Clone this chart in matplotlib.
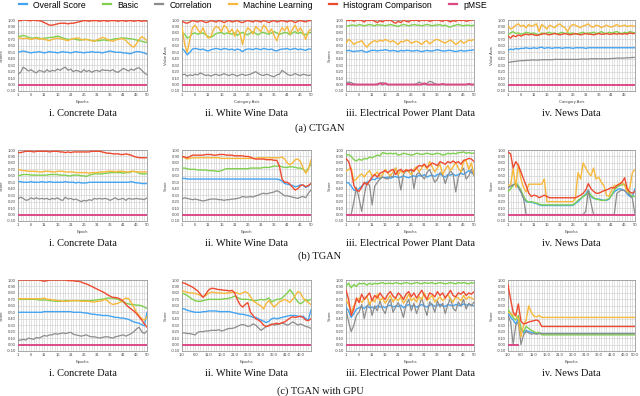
import numpy as np
import matplotlib
matplotlib.use("Agg")
import matplotlib.pyplot as plt
from matplotlib.lines import Line2D

# ---------------- data ----------------
epochs = list(range(1, 51))
series_names = ["Overall Score", "Basic", "Correlation", "Machine Learning", "Histogram Comparison", "pMSE"]
row_titles = ["(a) CTGAN", "(b) TGAN", "(c) TGAN with GPU"]
col_titles = ["i. Concrete Data", "ii. White Wine Data", "iii. Electrical Power Plant Data", "iv. News Data"]
x_labels = [["Epochs", "Category Axis", "Epochs", "Category Axis"],
            ["Epoch", "Epoch", "Epochs", "Epochs"],
            ["Epochs", "Epochs", "Epochs", "Epochs"]]
y_labels = [["Scores", "Value Axis", "Scores", "Value Axis"],
            ["Score", "Score", "Score", "Score"],
            ["Score", "Score", "Score", "Score"]]
y_ticks = [-0.1, 0.0, 0.1, 0.2, 0.3, 0.4, 0.5, 0.6, 0.7, 0.8, 0.9, 1.0]

# (a) CTGAN - Concrete
a1_overall = [0.50,0.51,0.52,0.51,0.50,0.49,0.50,0.50,0.51,0.50,0.49,0.50,0.51,0.50,0.50,0.49,0.50,0.51,0.50,0.50,0.49,0.50,0.51,0.50,0.50,0.49,0.50,0.50,0.51,0.50,0.50,0.50,0.49,0.50,0.51,0.52,0.51,0.50,0.50,0.50,0.49,0.49,0.48,0.48,0.50,0.51,0.51,0.50,0.49,0.47]
a1_basic = [0.74,0.75,0.76,0.75,0.73,0.72,0.72,0.73,0.72,0.71,0.72,0.72,0.73,0.73,0.74,0.75,0.74,0.72,0.71,0.70,0.70,0.71,0.70,0.69,0.69,0.70,0.70,0.69,0.68,0.68,0.68,0.68,0.69,0.69,0.68,0.69,0.70,0.71,0.71,0.72,0.72,0.72,0.71,0.71,0.70,0.69,0.68,0.67,0.66,0.65]
a1_corr = [0.16,0.19,0.27,0.24,0.21,0.23,0.20,0.18,0.22,0.21,0.19,0.23,0.20,0.22,0.21,0.24,0.22,0.25,0.27,0.22,0.24,0.20,0.22,0.21,0.19,0.23,0.20,0.22,0.19,0.21,0.22,0.20,0.23,0.22,0.22,0.21,0.23,0.20,0.19,0.22,0.25,0.23,0.21,0.24,0.22,0.25,0.26,0.22,0.18,0.15]
a1_ml = [0.72,0.72,0.71,0.72,0.71,0.70,0.71,0.72,0.70,0.71,0.70,0.69,0.68,0.70,0.71,0.72,0.71,0.70,0.69,0.68,0.70,0.71,0.72,0.72,0.70,0.69,0.70,0.69,0.68,0.67,0.69,0.71,0.73,0.72,0.70,0.68,0.67,0.69,0.70,0.71,0.71,0.68,0.64,0.60,0.58,0.63,0.70,0.74,0.72,0.68]
a1_hist = [0.99,0.99,1.00,1.00,0.99,0.99,1.00,0.99,0.99,0.98,0.96,0.94,0.92,0.92,0.93,0.94,0.95,0.95,0.95,0.94,0.95,0.95,0.96,0.97,0.98,0.99,0.99,0.98,0.99,0.99,0.99,0.98,0.99,0.99,0.98,0.99,0.99,0.99,0.98,0.99,0.99,0.98,0.99,0.99,0.98,0.99,0.99,0.98,0.99,0.98]
a1_pmse = [0,0,0,0,0,0,0,0,0,0,0,0,0,0,0,0,0,0,0,0,0,0,0,0,0,0,0,0,0,0,0,0,0,0,0,0,0,0,0,0,0,0,0,0,0,0,0,0,0,0]

# (a) CTGAN - White Wine
a2_overall = [0.56,0.52,0.46,0.50,0.55,0.56,0.55,0.54,0.55,0.53,0.52,0.54,0.55,0.56,0.55,0.54,0.56,0.55,0.54,0.55,0.53,0.55,0.54,0.51,0.54,0.55,0.55,0.54,0.56,0.55,0.54,0.56,0.55,0.54,0.55,0.53,0.52,0.54,0.55,0.55,0.56,0.54,0.55,0.56,0.54,0.55,0.54,0.53,0.55,0.55]
a2_basic = [0.80,0.78,0.72,0.74,0.79,0.80,0.78,0.79,0.80,0.77,0.74,0.73,0.76,0.79,0.80,0.81,0.78,0.80,0.79,0.78,0.80,0.76,0.79,0.81,0.78,0.77,0.80,0.82,0.79,0.77,0.80,0.81,0.79,0.78,0.80,0.82,0.80,0.78,0.79,0.81,0.80,0.77,0.80,0.82,0.79,0.81,0.78,0.77,0.80,0.81]
a2_corr = [0.15,0.16,0.13,0.15,0.14,0.16,0.15,0.18,0.16,0.14,0.15,0.13,0.15,0.16,0.14,0.15,0.17,0.15,0.14,0.16,0.15,0.13,0.15,0.16,0.14,0.15,0.16,0.18,0.20,0.17,0.15,0.14,0.16,0.15,0.13,0.12,0.15,0.16,0.22,0.19,0.16,0.14,0.15,0.17,0.15,0.14,0.16,0.15,0.14,0.15]
a2_ml = [0.90,0.62,0.50,0.70,0.88,0.92,0.85,0.80,0.88,0.78,0.72,0.74,0.86,0.90,0.88,0.82,0.92,0.88,0.80,0.86,0.75,0.85,0.80,0.62,0.80,0.88,0.84,0.78,0.90,0.86,0.82,0.92,0.88,0.80,0.86,0.76,0.68,0.80,0.88,0.84,0.90,0.78,0.86,0.92,0.82,0.88,0.80,0.70,0.82,0.86]
a2_hist = [0.98,0.96,0.95,0.97,0.99,0.98,0.97,0.99,0.98,0.96,0.97,0.99,0.98,0.97,0.99,0.98,0.96,0.98,0.99,0.97,0.98,0.99,0.97,0.96,0.98,0.99,0.98,0.97,0.99,0.98,0.97,0.99,0.98,0.96,0.98,0.99,0.97,0.98,0.99,0.98,0.97,0.99,0.98,0.96,0.98,0.99,0.98,0.97,0.99,0.99]
a2_pmse = [0,0,0,0,0,0,0,0,0,0,0,0,0,0,0,0,0,0,0,0,0,0,0,0,0,0,0,0,0,0,0,0,0,0,0,0,0,0,0,0,0,0,0,0,0,0,0,0,0,0]

# (a) CTGAN - Electrical Power Plant
a3_overall = [0.52,0.53,0.52,0.51,0.52,0.52,0.53,0.51,0.50,0.52,0.53,0.53,0.52,0.53,0.53,0.54,0.53,0.52,0.53,0.52,0.51,0.53,0.52,0.53,0.53,0.52,0.52,0.53,0.52,0.51,0.52,0.53,0.52,0.52,0.53,0.54,0.53,0.52,0.52,0.53,0.53,0.52,0.51,0.52,0.53,0.52,0.52,0.53,0.53,0.54]
a3_basic = [0.90,0.91,0.92,0.92,0.91,0.93,0.92,0.91,0.92,0.93,0.92,0.91,0.93,0.92,0.92,0.91,0.92,0.93,0.92,0.91,0.90,0.92,0.93,0.92,0.91,0.92,0.93,0.92,0.92,0.91,0.92,0.93,0.92,0.91,0.92,0.92,0.93,0.91,0.92,0.90,0.89,0.91,0.92,0.93,0.92,0.91,0.92,0.92,0.91,0.92]
a3_corr = [0.02,0.04,0.03,0.01,0.00,0.00,0.00,0.00,0.00,0.00,0.00,0.00,0.01,0.02,0.03,0.01,0.00,0.00,0.00,0.00,0.00,0.00,0.00,0.00,0.00,0.00,0.00,0.01,0.04,0.02,0.00,0.02,0.05,0.04,0.01,0.00,0.00,0.00,0.00,0.00,0.00,0.00,0.00,0.00,0.00,0.00,0.00,0.00,0.00,0.00]
a3_ml = [0.64,0.70,0.67,0.62,0.65,0.66,0.68,0.62,0.58,0.63,0.66,0.68,0.66,0.69,0.67,0.70,0.68,0.66,0.68,0.65,0.62,0.67,0.66,0.69,0.68,0.64,0.66,0.67,0.65,0.62,0.66,0.68,0.63,0.66,0.69,0.70,0.68,0.66,0.64,0.67,0.69,0.66,0.62,0.65,0.68,0.64,0.66,0.69,0.68,0.70]
a3_hist = [1.00,0.99,1.00,0.98,1.00,1.00,0.99,0.97,1.00,0.99,1.00,0.98,0.96,0.99,0.97,1.00,0.99,1.00,0.97,0.95,0.98,0.96,1.00,0.98,0.97,1.00,0.99,1.00,0.98,1.00,0.99,1.00,0.98,0.99,1.00,1.00,0.99,0.98,1.00,0.99,0.97,0.99,0.98,1.00,0.99,1.00,0.98,0.99,1.00,1.00]
a3_pmse = [0.00,0.01,0.00,0.00,0.00,0.00,0.00,0.00,0.00,0.00,0.00,0.00,0.00,0.02,0.00,0.02,0.00,0.00,0.00,0.00,0.00,0.00,0.00,0.00,0.00,0.00,0.00,0.00,0.00,0.00,0.02,0.00,0.00,0.00,0.00,0.00,0.00,0.01,0.00,0.00,0.00,0.00,0.00,0.00,0.00,0.00,0.00,0.01,0.00,0.00]

# (a) CTGAN - News
a4_overall = [0.53,0.55,0.54,0.56,0.55,0.56,0.56,0.57,0.56,0.56,0.57,0.56,0.57,0.58,0.56,0.57,0.57,0.56,0.57,0.57,0.57,0.56,0.57,0.57,0.57,0.56,0.57,0.57,0.57,0.57,0.56,0.57,0.57,0.57,0.57,0.57,0.57,0.57,0.57,0.57,0.57,0.57,0.57,0.57,0.57,0.57,0.57,0.57,0.57,0.57]
a4_basic = [0.77,0.80,0.82,0.79,0.80,0.78,0.79,0.81,0.80,0.79,0.80,0.78,0.77,0.80,0.79,0.80,0.81,0.79,0.80,0.78,0.80,0.81,0.79,0.80,0.79,0.80,0.78,0.79,0.80,0.81,0.79,0.80,0.80,0.81,0.79,0.80,0.82,0.80,0.79,0.81,0.80,0.81,0.82,0.80,0.79,0.81,0.80,0.82,0.81,0.80]
a4_corr = [0.34,0.35,0.355,0.36,0.365,0.37,0.37,0.375,0.375,0.38,0.38,0.38,0.38,0.385,0.385,0.385,0.385,0.385,0.39,0.39,0.39,0.39,0.39,0.39,0.39,0.39,0.39,0.39,0.395,0.395,0.395,0.395,0.40,0.40,0.40,0.40,0.40,0.40,0.40,0.40,0.405,0.405,0.41,0.41,0.41,0.41,0.415,0.415,0.42,0.42]
a4_ml = [0.91,0.86,0.88,0.92,0.94,0.90,0.92,0.88,0.93,0.90,0.92,0.94,0.82,0.93,0.90,0.86,0.92,0.90,0.88,0.92,0.94,0.90,0.88,0.82,0.90,0.93,0.92,0.90,0.88,0.91,0.92,0.94,0.90,0.89,0.92,0.91,0.88,0.90,0.92,0.90,0.89,0.91,0.93,0.90,0.91,0.92,0.90,0.91,0.91,0.90]
a4_hist = [0.75,0.72,0.76,0.74,0.77,0.75,0.77,0.78,0.77,0.78,0.77,0.76,0.77,0.78,0.79,0.78,0.77,0.78,0.79,0.78,0.77,0.78,0.79,0.78,0.77,0.78,0.79,0.78,0.77,0.78,0.79,0.78,0.78,0.77,0.78,0.79,0.78,0.78,0.79,0.78,0.78,0.79,0.78,0.79,0.78,0.79,0.78,0.80,0.79,0.79]
a4_pmse = [0,0,0,0,0,0,0,0,0,0,0,0,0,0,0,0,0,0,0,0,0,0,0,0,0,0,0,0,0,0,0,0,0,0,0,0,0,0,0,0,0,0,0,0,0,0,0,0,0,0]

# (b) TGAN - Concrete
b1_overall = [0.51,0.51,0.50,0.50,0.50,0.51,0.50,0.50,0.50,0.51,0.50,0.50,0.51,0.50,0.50,0.50,0.50,0.50,0.51,0.50,0.50,0.50,0.49,0.50,0.49,0.49,0.49,0.50,0.50,0.50,0.50,0.50,0.50,0.50,0.50,0.50,0.50,0.50,0.50,0.50,0.50,0.50,0.50,0.51,0.50,0.49,0.49,0.48,0.48,0.48]
b1_basic = [0.60,0.61,0.62,0.62,0.62,0.61,0.61,0.61,0.61,0.61,0.61,0.61,0.62,0.62,0.62,0.62,0.61,0.61,0.61,0.60,0.60,0.61,0.61,0.61,0.60,0.60,0.59,0.61,0.62,0.63,0.63,0.63,0.63,0.64,0.64,0.65,0.65,0.65,0.65,0.65,0.64,0.65,0.65,0.66,0.67,0.66,0.64,0.63,0.63,0.63]
b1_corr = [0.24,0.27,0.25,0.22,0.23,0.26,0.24,0.26,0.24,0.25,0.24,0.25,0.23,0.25,0.24,0.26,0.23,0.22,0.27,0.24,0.25,0.23,0.24,0.22,0.20,0.22,0.21,0.23,0.22,0.25,0.24,0.25,0.24,0.25,0.24,0.22,0.24,0.26,0.23,0.24,0.25,0.22,0.25,0.24,0.24,0.25,0.24,0.24,0.23,0.26]
b1_ml = [0.70,0.69,0.68,0.68,0.67,0.67,0.67,0.67,0.66,0.66,0.67,0.67,0.67,0.66,0.66,0.67,0.67,0.67,0.66,0.66,0.66,0.66,0.65,0.65,0.65,0.65,0.65,0.64,0.65,0.65,0.65,0.66,0.66,0.66,0.67,0.67,0.67,0.66,0.67,0.67,0.67,0.66,0.66,0.67,0.67,0.66,0.66,0.66,0.66,0.66]
b1_hist = [0.96,0.96,0.97,0.98,0.98,0.98,0.97,0.98,0.98,0.98,0.98,0.98,0.97,0.98,0.98,0.98,0.97,0.97,0.96,0.97,0.96,0.97,0.97,0.97,0.97,0.97,0.97,0.97,0.98,0.98,0.98,0.98,0.97,0.96,0.95,0.95,0.94,0.94,0.94,0.93,0.93,0.94,0.93,0.92,0.90,0.89,0.88,0.88,0.88,0.88]
b1_pmse = [0,0,0,0,0,0,0,0,0,0,0,0,0,0,0,0,0,0,0,0,0,0,0,0,0,0,0,0,0,0,0,0,0,0,0,0,0,0,0,0,0,0,0,0,0,0,0,0,0,0]

# (b) TGAN - White Wine
b2_overall = [0.56,0.56,0.55,0.55,0.55,0.55,0.55,0.55,0.55,0.55,0.55,0.55,0.55,0.55,0.55,0.55,0.55,0.55,0.55,0.55,0.55,0.55,0.55,0.55,0.55,0.55,0.55,0.55,0.55,0.55,0.55,0.55,0.55,0.55,0.55,0.55,0.55,0.54,0.52,0.48,0.47,0.46,0.45,0.43,0.44,0.46,0.45,0.42,0.44,0.48]
b2_basic = [0.72,0.72,0.71,0.70,0.70,0.70,0.69,0.69,0.69,0.69,0.68,0.68,0.68,0.67,0.67,0.68,0.70,0.71,0.71,0.71,0.71,0.71,0.71,0.71,0.71,0.71,0.72,0.72,0.72,0.72,0.72,0.73,0.73,0.73,0.74,0.75,0.75,0.75,0.74,0.73,0.73,0.74,0.74,0.73,0.72,0.72,0.70,0.66,0.72,0.78]
b2_corr = [0.24,0.26,0.25,0.24,0.23,0.24,0.23,0.22,0.21,0.22,0.23,0.24,0.24,0.24,0.23,0.23,0.22,0.23,0.23,0.24,0.24,0.25,0.26,0.28,0.27,0.27,0.28,0.27,0.29,0.30,0.32,0.33,0.32,0.33,0.34,0.35,0.37,0.35,0.32,0.29,0.29,0.28,0.27,0.26,0.25,0.27,0.28,0.26,0.33,0.38]
b2_ml = [0.90,0.88,0.86,0.87,0.88,0.88,0.88,0.88,0.88,0.88,0.88,0.88,0.88,0.88,0.88,0.87,0.87,0.87,0.87,0.87,0.87,0.87,0.87,0.87,0.87,0.87,0.87,0.87,0.87,0.88,0.88,0.88,0.88,0.88,0.88,0.88,0.88,0.88,0.89,0.86,0.80,0.77,0.80,0.85,0.86,0.82,0.72,0.64,0.70,0.85]
b2_hist = [0.90,0.89,0.88,0.90,0.92,0.92,0.92,0.92,0.92,0.93,0.93,0.93,0.92,0.92,0.93,0.93,0.93,0.92,0.92,0.92,0.91,0.91,0.91,0.91,0.90,0.90,0.89,0.87,0.86,0.86,0.86,0.86,0.85,0.85,0.85,0.84,0.84,0.75,0.55,0.50,0.50,0.47,0.42,0.38,0.40,0.45,0.46,0.43,0.45,0.48]
b2_pmse = [0,0,0,0,0,0,0,0,0,0,0,0,0,0,0,0,0,0,0,0,0,0,0,0,0,0,0,0,0,0,0,0,0,0,0,0,0,0,0,0,0,0,0,0,0,0,0,0,0,0]

# (b) TGAN - Electrical Power Plant
b3_overall = [0.50,0.49,0.44,0.38,0.37,0.40,0.44,0.48,0.50,0.52,0.55,0.54,0.57,0.56,0.58,0.57,0.58,0.56,0.58,0.59,0.57,0.58,0.60,0.58,0.57,0.59,0.60,0.58,0.61,0.59,0.62,0.58,0.60,0.61,0.59,0.62,0.63,0.60,0.58,0.62,0.61,0.63,0.60,0.62,0.64,0.62,0.65,0.68,0.65,0.62]
b3_basic = [0.92,0.93,0.90,0.85,0.83,0.86,0.84,0.87,0.86,0.89,0.88,0.90,0.92,0.91,0.96,0.95,0.94,0.95,0.94,0.95,0.92,0.93,0.95,0.94,0.93,0.92,0.93,0.95,0.94,0.93,0.94,0.95,0.94,0.93,0.94,0.95,0.94,0.92,0.93,0.95,0.94,0.95,0.94,0.96,0.96,0.97,0.95,0.96,0.95,0.95]
b3_corr = [0.00,0.00,0.00,0.20,0.42,0.25,0.05,0.30,0.50,0.45,0.15,0.44,0.50,0.55,0.58,0.56,0.55,0.60,0.58,0.72,0.60,0.38,0.62,0.68,0.66,0.70,0.40,0.62,0.65,0.60,0.55,0.65,0.70,0.60,0.50,0.55,0.65,0.62,0.48,0.60,0.68,0.62,0.35,0.58,0.66,0.72,0.55,0.60,0.70,0.60]
b3_ml = [0.67,0.70,0.72,0.52,0.55,0.60,0.63,0.58,0.64,0.68,0.60,0.62,0.66,0.58,0.62,0.70,0.64,0.60,0.66,0.72,0.62,0.68,0.64,0.70,0.66,0.62,0.70,0.74,0.66,0.72,0.78,0.70,0.82,0.74,0.66,0.72,0.78,0.62,0.70,0.76,0.68,0.74,0.80,0.72,0.66,0.82,0.84,0.70,0.80,0.62]
b3_hist = [0.87,0.82,0.68,0.45,0.38,0.36,0.42,0.50,0.46,0.52,0.58,0.62,0.58,0.64,0.66,0.68,0.65,0.68,0.70,0.62,0.68,0.70,0.66,0.69,0.68,0.70,0.67,0.72,0.76,0.75,0.78,0.73,0.76,0.80,0.78,0.76,0.82,0.80,0.78,0.82,0.80,0.83,0.80,0.82,0.78,0.84,0.85,0.87,0.86,0.82]
b3_pmse = [0,0,0,0,0,0,0,0,0,0,0,0,0,0,0,0,0,0,0,0,0,0,0,0,0,0,0,0,0,0,0,0,0,0,0,0,0,0,0,0,0,0,0,0,0,0,0,0,0,0]

# (b) TGAN - News
b4_overall = [0.42,0.44,0.46,0.48,0.42,0.35,0.26,0.20,0.19,0.19,0.18,0.17,0.15,0.14,0.14,0.14,0.14,0.14,0.14,0.14,0.14,0.14,0.14,0.14,0.14,0.14,0.17,0.20,0.24,0.28,0.32,0.38,0.28,0.25,0.24,0.24,0.23,0.22,0.22,0.24,0.30,0.35,0.38,0.40,0.39,0.37,0.32,0.28,0.27,0.40]
b4_basic = [0.35,0.40,0.45,0.50,0.45,0.38,0.28,0.22,0.19,0.20,0.19,0.18,0.16,0.15,0.15,0.15,0.15,0.15,0.15,0.15,0.15,0.15,0.15,0.15,0.15,0.15,0.18,0.22,0.25,0.28,0.30,0.36,0.30,0.26,0.24,0.23,0.22,0.22,0.23,0.25,0.30,0.38,0.42,0.45,0.46,0.47,0.38,0.32,0.28,0.28]
b4_corr = [0.42,0.44,0.46,0.47,0.42,0.35,0.25,0.00,0.00,0.00,0.00,0.00,0.00,0.00,0.00,0.00,0.00,0.00,0.00,0.00,0.00,0.00,0.00,0.00,0.00,0.00,0.00,0.00,0.00,0.00,0.05,0.38,0.18,0.00,0.00,0.00,0.00,0.00,0.00,0.00,0.00,0.00,0.33,0.36,0.38,0.37,0.34,0.30,0.25,0.00]
b4_ml = [0.45,0.46,0.72,0.42,0.78,0.55,0.42,0.35,0.47,0.47,0.47,0.47,0.47,0.47,0.55,0.20,0.20,0.20,0.20,0.20,0.20,0.20,0.20,0.20,0.20,0.20,0.25,0.65,0.55,0.80,0.72,0.65,0.60,0.72,0.55,0.58,0.50,0.45,0.30,0.28,0.38,0.45,0.45,0.48,0.50,0.45,0.35,0.42,0.65,0.70]
b4_hist = [0.97,0.94,0.72,0.82,0.76,0.66,0.55,0.45,0.33,0.28,0.30,0.29,0.26,0.28,0.30,0.28,0.26,0.26,0.26,0.26,0.26,0.26,0.26,0.26,0.26,0.26,0.26,0.28,0.30,0.33,0.38,0.48,0.40,0.36,0.33,0.33,0.35,0.37,0.38,0.40,0.42,0.41,0.45,0.47,0.50,0.57,0.40,0.35,0.33,0.36]
b4_pmse = [0,0,0,0,0,0,0,0,0,0,0,0,0,0,0,0,0,0,0,0,0,0,0,0,0,0,0,0,0,0,0,0,0,0,0,0,0,0,0,0,0,0,0,0,0,0,0,0,0,0]

# (c) TGAN with GPU - Concrete
c1_overall = [0.50,0.50,0.50,0.50,0.50,0.50,0.50,0.50,0.50,0.50,0.51,0.51,0.51,0.51,0.51,0.51,0.51,0.51,0.51,0.51,0.51,0.50,0.50,0.50,0.50,0.49,0.49,0.48,0.47,0.47,0.46,0.46,0.45,0.45,0.45,0.44,0.43,0.42,0.42,0.41,0.41,0.40,0.39,0.37,0.35,0.34,0.33,0.31,0.29,0.50]
c1_basic = [0.70,0.70,0.70,0.70,0.70,0.70,0.70,0.70,0.69,0.69,0.69,0.69,0.68,0.68,0.67,0.67,0.67,0.67,0.68,0.68,0.68,0.68,0.68,0.68,0.68,0.68,0.68,0.68,0.68,0.69,0.69,0.70,0.70,0.71,0.72,0.72,0.72,0.71,0.70,0.68,0.66,0.64,0.63,0.62,0.62,0.61,0.61,0.60,0.58,0.56]
c1_corr = [0.06,0.07,0.08,0.07,0.10,0.09,0.08,0.11,0.10,0.12,0.14,0.13,0.15,0.15,0.17,0.16,0.17,0.18,0.17,0.18,0.19,0.16,0.15,0.14,0.13,0.14,0.15,0.13,0.12,0.12,0.11,0.10,0.11,0.12,0.12,0.11,0.10,0.12,0.13,0.14,0.15,0.13,0.15,0.17,0.20,0.24,0.27,0.20,0.17,0.21]
c1_ml = [0.71,0.71,0.71,0.71,0.71,0.71,0.71,0.71,0.71,0.71,0.72,0.70,0.70,0.69,0.69,0.68,0.68,0.67,0.67,0.67,0.68,0.68,0.68,0.68,0.67,0.67,0.67,0.67,0.66,0.66,0.67,0.67,0.68,0.70,0.68,0.64,0.62,0.63,0.64,0.66,0.70,0.72,0.71,0.65,0.58,0.50,0.45,0.40,0.38,0.43]
c1_hist = [1.00,1.00,1.00,1.00,1.00,1.00,1.00,1.00,1.00,0.99,0.98,0.99,1.00,1.00,1.00,1.00,1.00,1.00,1.00,0.99,0.99,0.99,0.98,0.98,0.97,0.95,0.94,0.92,0.90,0.88,0.86,0.84,0.82,0.80,0.77,0.75,0.73,0.73,0.72,0.70,0.67,0.62,0.58,0.55,0.52,0.48,0.43,0.38,0.32,0.27]
c1_pmse = [0,0,0,0,0,0,0,0,0,0,0,0,0,0,0,0,0,0,0,0,0,0,0,0,0,0,0,0,0,0,0,0,0,0,0,0,0,0,0,0,0,0,0,0,0,0,0,0,0,0]

# (c) TGAN with GPU - White Wine
c2_overall = [0.56,0.55,0.53,0.52,0.51,0.50,0.50,0.50,0.51,0.51,0.52,0.52,0.52,0.52,0.51,0.51,0.51,0.51,0.51,0.50,0.49,0.48,0.47,0.47,0.46,0.45,0.44,0.42,0.42,0.40,0.38,0.36,0.34,0.36,0.40,0.41,0.40,0.41,0.42,0.43,0.44,0.45,0.45,0.45,0.44,0.43,0.44,0.40,0.38,0.54]
c2_basic = [0.80,0.78,0.76,0.73,0.70,0.68,0.67,0.67,0.68,0.69,0.70,0.70,0.70,0.70,0.70,0.70,0.71,0.71,0.72,0.73,0.75,0.73,0.71,0.70,0.70,0.70,0.69,0.68,0.68,0.69,0.70,0.69,0.70,0.72,0.66,0.68,0.70,0.70,0.72,0.76,0.80,0.85,0.80,0.72,0.66,0.63,0.66,0.70,0.68,0.70]
c2_corr = [0.18,0.18,0.17,0.17,0.16,0.15,0.19,0.20,0.20,0.21,0.21,0.22,0.22,0.22,0.23,0.21,0.22,0.24,0.25,0.25,0.26,0.28,0.30,0.31,0.30,0.28,0.29,0.32,0.30,0.26,0.22,0.25,0.28,0.30,0.32,0.30,0.31,0.32,0.33,0.32,0.30,0.32,0.35,0.33,0.30,0.32,0.30,0.28,0.27,0.25]
c2_ml = [0.84,0.82,0.81,0.80,0.80,0.79,0.78,0.76,0.74,0.76,0.79,0.81,0.81,0.80,0.80,0.80,0.79,0.80,0.80,0.81,0.81,0.80,0.78,0.80,0.82,0.80,0.74,0.68,0.65,0.62,0.60,0.55,0.64,0.68,0.63,0.58,0.62,0.66,0.68,0.70,0.68,0.65,0.70,0.76,0.82,0.80,0.72,0.68,0.65,0.62]
c2_hist = [0.96,0.95,0.93,0.91,0.89,0.86,0.83,0.78,0.73,0.78,0.84,0.87,0.87,0.86,0.85,0.85,0.84,0.84,0.83,0.84,0.80,0.70,0.62,0.58,0.62,0.65,0.50,0.45,0.40,0.38,0.35,0.30,0.28,0.29,0.31,0.32,0.33,0.32,0.34,0.35,0.38,0.41,0.43,0.42,0.43,0.44,0.42,0.38,0.37,0.40]
c2_pmse = [0,0,0,0,0,0,0,0,0,0,0,0,0,0,0,0,0,0,0,0,0,0,0,0,0,0,0,0,0,0,0,0,0,0,0,0,0,0,0,0,0,0,0,0,0,0,0,0,0,0]

# (c) TGAN with GPU - Electrical Power Plant
c3_overall = [0.58,0.52,0.42,0.48,0.55,0.57,0.58,0.56,0.60,0.57,0.58,0.56,0.60,0.58,0.59,0.57,0.60,0.61,0.58,0.60,0.59,0.61,0.57,0.60,0.62,0.59,0.61,0.58,0.60,0.62,0.60,0.58,0.61,0.62,0.59,0.61,0.62,0.60,0.59,0.62,0.61,0.60,0.62,0.61,0.60,0.63,0.61,0.62,0.61,0.60]
c3_basic = [0.90,0.95,0.88,0.93,0.90,0.95,0.94,0.95,0.92,0.95,0.93,0.95,0.94,0.95,0.96,0.94,0.95,0.95,0.94,0.96,0.95,0.94,0.95,0.96,0.95,0.94,0.95,0.96,0.95,0.94,0.96,0.95,0.95,0.96,0.94,0.95,0.96,0.95,0.94,0.95,0.96,0.95,0.94,0.96,0.95,0.96,0.95,0.94,0.96,0.95]
c3_corr = [0.55,0.35,0.20,0.30,0.45,0.50,0.62,0.40,0.58,0.65,0.45,0.60,0.52,0.68,0.55,0.48,0.62,0.70,0.50,0.58,0.65,0.55,0.42,0.62,0.70,0.52,0.64,0.48,0.60,0.72,0.58,0.45,0.66,0.62,0.50,0.68,0.58,0.64,0.48,0.62,0.72,0.56,0.52,0.66,0.60,0.70,0.55,0.64,0.60,0.66]
c3_ml = [0.70,0.62,0.50,0.60,0.68,0.72,0.65,0.70,0.75,0.62,0.70,0.66,0.78,0.68,0.72,0.64,0.70,0.76,0.66,0.72,0.68,0.74,0.64,0.70,0.78,0.68,0.72,0.66,0.74,0.70,0.80,0.68,0.72,0.76,0.66,0.70,0.74,0.68,0.72,0.78,0.70,0.66,0.74,0.72,0.68,0.76,0.70,0.74,0.72,0.70]
c3_hist = [0.85,0.70,0.45,0.55,0.72,0.65,0.78,0.70,0.75,0.80,0.68,0.76,0.72,0.80,0.74,0.70,0.78,0.82,0.75,0.72,0.80,0.76,0.70,0.78,0.82,0.74,0.80,0.72,0.78,0.84,0.76,0.70,0.80,0.78,0.74,0.82,0.76,0.80,0.72,0.78,0.84,0.76,0.74,0.80,0.78,0.82,0.76,0.80,0.78,0.82]
c3_pmse = [0,0,0,0,0,0,0,0,0,0,0,0,0,0,0,0,0,0,0,0,0,0,0,0,0,0,0,0,0,0,0,0,0,0,0,0,0,0,0,0,0,0,0,0,0,0,0,0,0,0]

# (c) TGAN with GPU - News
c4_overall = [0.50,0.42,0.38,0.32,0.40,0.22,0.18,0.22,0.20,0.19,0.18,0.17,0.18,0.17,0.17,0.17,0.17,0.17,0.17,0.17,0.17,0.17,0.17,0.17,0.17,0.17,0.17,0.17,0.17,0.17,0.17,0.17,0.17,0.17,0.17,0.17,0.17,0.17,0.17,0.17,0.17,0.17,0.17,0.17,0.17,0.17,0.17,0.17,0.17,0.17]
c4_basic = [0.55,0.48,0.42,0.38,0.45,0.25,0.20,0.28,0.25,0.22,0.20,0.18,0.19,0.15,0.15,0.15,0.15,0.15,0.15,0.15,0.15,0.15,0.15,0.15,0.15,0.15,0.15,0.15,0.15,0.15,0.15,0.15,0.15,0.15,0.15,0.15,0.15,0.15,0.15,0.15,0.15,0.15,0.15,0.15,0.15,0.15,0.15,0.15,0.15,0.15]
c4_corr = [0.45,0.35,0.00,0.30,0.35,0.00,0.15,0.20,0.18,0.16,0.17,0.16,0.17,0.17,0.17,0.17,0.17,0.17,0.17,0.17,0.17,0.17,0.17,0.17,0.17,0.17,0.17,0.17,0.17,0.17,0.17,0.17,0.17,0.17,0.17,0.17,0.17,0.17,0.17,0.17,0.17,0.17,0.17,0.17,0.17,0.17,0.17,0.17,0.17,0.17]
c4_ml = [0.50,0.48,0.46,0.44,0.40,0.12,0.30,0.38,0.60,0.50,0.44,0.43,0.45,0.42,0.42,0.42,0.42,0.42,0.42,0.42,0.42,0.42,0.42,0.42,0.42,0.42,0.42,0.42,0.42,0.42,0.42,0.42,0.42,0.42,0.42,0.42,0.42,0.42,0.42,0.42,0.42,0.42,0.42,0.42,0.42,0.42,0.42,0.42,0.42,0.42]
c4_hist = [0.93,0.70,0.50,0.45,0.63,0.36,0.32,0.33,0.35,0.36,0.37,0.38,0.36,0.28,0.28,0.28,0.28,0.28,0.28,0.28,0.28,0.28,0.28,0.28,0.28,0.28,0.28,0.28,0.28,0.28,0.28,0.28,0.28,0.28,0.28,0.28,0.28,0.28,0.28,0.28,0.28,0.28,0.28,0.28,0.28,0.28,0.28,0.28,0.28,0.28]
c4_pmse = [0,0,0,0,0,None,None,None,None,None,None,None,None,None,None,None,None,None,None,None,None,None,None,None,None,None,None,None,None,None,None,None,None,None,None,None,None,None,None,None,None,None,None,None,None,None,None,None,None,None]

grid_data = [
    [[a1_overall, a1_basic, a1_corr, a1_ml, a1_hist, a1_pmse],
     [a2_overall, a2_basic, a2_corr, a2_ml, a2_hist, a2_pmse],
     [a3_overall, a3_basic, a3_corr, a3_ml, a3_hist, a3_pmse],
     [a4_overall, a4_basic, a4_corr, a4_ml, a4_hist, a4_pmse]],
    [[b1_overall, b1_basic, b1_corr, b1_ml, b1_hist, b1_pmse],
     [b2_overall, b2_basic, b2_corr, b2_ml, b2_hist, b2_pmse],
     [b3_overall, b3_basic, b3_corr, b3_ml, b3_hist, b3_pmse],
     [b4_overall, b4_basic, b4_corr, b4_ml, b4_hist, b4_pmse]],
    [[c1_overall, c1_basic, c1_corr, c1_ml, c1_hist, c1_pmse],
     [c2_overall, c2_basic, c2_corr, c2_ml, c2_hist, c2_pmse],
     [c3_overall, c3_basic, c3_corr, c3_ml, c3_hist, c3_pmse],
     [c4_overall, c4_basic, c4_corr, c4_ml, c4_hist, c4_pmse]],
]

x_ticks_int = [1, 6, 11, 16, 21, 26, 31, 36, 41, 46, 50]

# ---------------- style ----------------
colors = ["#44a4f2", "#80d050", "#8c8c8c", "#f8b83c", "#ee4a30", "#dc4a86"]
widths = [1.0, 1.0, 0.9, 1.0, 1.0, 1.4]
SANS = ["Liberation Sans", "DejaVu Sans"]
SERIF = ["Liberation Serif", "DejaVu Serif"]
plt.rcParams["font.family"] = SANS

W, H = 640, 396
fig = plt.figure(figsize=(W / 100, H / 100), dpi=100)

col_left = [18, 182, 346, 508]
col_w = [129, 129, 128, 127]
row_top = [20, 150, 280]
row_h = 71
tick_dec = [[False, False, False, False], [False, False, False, False], [False, True, False, True]]
show_last = [[True, True, True, False], [True, True, True, True], [True, False, True, True]]

for r in range(3):
    for c in range(4):
        ax = fig.add_axes([col_left[c] / W, 1 - (row_top[r] + row_h) / H, col_w[c] / W, row_h / H])
        for s, vals in enumerate(grid_data[r][c]):
            y = np.array([np.nan if v is None else v for v in vals], dtype=float)
            ax.plot(epochs, y, color=colors[s], lw=widths[s], solid_joinstyle="round", zorder=3)
        ax.set_xlim(1, 50)
        ax.set_ylim(-0.10, 1.00)
        ax.set_yticks(y_ticks)
        ax.set_yticklabels([f"{v:.2f}" for v in y_ticks])
        ticks = x_ticks_int if show_last[r][c] else x_ticks_int[:-1]
        ax.set_xticks(ticks)
        if tick_dec[r][c]:
            ax.set_xticklabels([f"{t:.1f}" for t in ticks])
        else:
            ax.set_xticklabels([str(t) for t in ticks])
        ax.set_xticks(epochs, minor=True)
        ax.grid(which="both", axis="x", color="#d4d4d4", lw=0.5, zorder=0)
        ax.grid(which="major", axis="y", color="#d4d4d4", lw=0.5, zorder=0)
        ax.tick_params(which="both", length=0, labelsize=3.0, pad=1.5, colors="#444444")
        for sp in ax.spines.values():
            sp.set_color("#9a9a9a")
            sp.set_linewidth(0.6)
        ax.set_xlabel(x_labels[r][c], fontsize=3.0, labelpad=2, color="#444444")
        ax.set_ylabel(y_labels[r][c], fontsize=3.0, labelpad=2, color="#444444")
        cx = (col_left[c] + col_w[c] / 2) / W
        ty = row_top[r] + row_h + 22
        fig.text(cx, 1 - ty / H, col_titles[c], ha="center", va="center",
                 fontsize=7.5, family=SERIF, color="#111111")

group_y = [128, 256, 391]
for r in range(3):
    fig.text(0.5, 1 - group_y[r] / H, row_titles[r], ha="center", va="center",
             fontsize=7.5, family=SERIF, color="#111111")

handles = [Line2D([0], [0], color=colors[i], lw=1.6) for i in range(6)]
fig.legend(handles, series_names, loc="center", bbox_to_anchor=(253 / W, 1 - 5 / H),
           ncol=6, frameon=False, fontsize=6.2, handlelength=0.9, handletextpad=0.7,
           columnspacing=2.0, borderpad=0, borderaxespad=0)

fig.savefig("out.png", dpi=100)
